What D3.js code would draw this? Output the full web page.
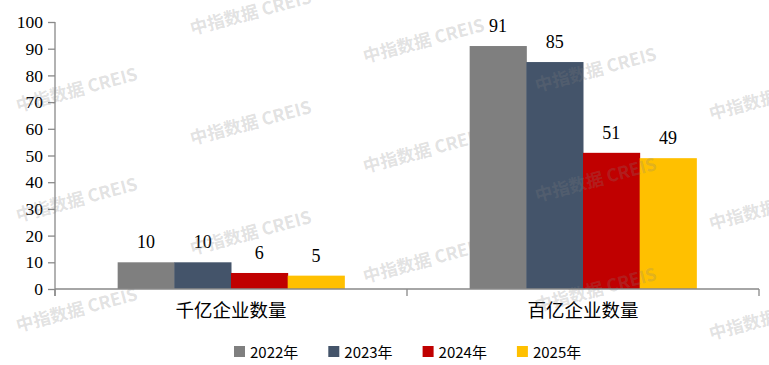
<!DOCTYPE html>
<html>
<head>
<meta charset="utf-8">
<script src="https://cdn.jsdelivr.net/npm/d3@7"></script>
<style>
  body { margin: 0; background: #fff; }
  svg { display: block; }
</style>
</head>
<body>
<svg id="svg"></svg>
<script>
// data
const categories = ["千亿企业数量", "百亿企业数量"];
const years = ["2022年", "2023年", "2024年", "2025年"];
const values2022 = [10, 91];
const values2023 = [10, 85];
const values2024 = [6, 51];
const values2025 = [5, 49];
const yTicks = [0, 10, 20, 30, 40, 50, 60, 70, 80, 90, 100];
const colors = ["#7F7F7F", "#44546A", "#C00000", "#FFC000"];

const svgWidth = 769;
const svgHeight = 365;
const plotLeft = 55, plotRight = 759, plotTop = 22, plotBottom = 289;

const seriesValues = [values2022, values2023, values2024, values2025];

var svg = d3.select("svg")
    .attr("width", svgWidth)
    .attr("height", svgHeight);

var x0 = d3.scaleBand().domain(categories).range([plotLeft, plotRight]);
var bw = x0.bandwidth();
var gap = bw * 0.178;
var x1 = d3.scaleBand().domain(years).range([gap, bw - gap]);
var y = d3.scaleLinear().domain([0, 100]).range([plotBottom, plotTop]);

// table of rows for bars
var rows = [];
categories.forEach((c, ci) => {
    years.forEach((yr, si) => {
        rows.push({ cat: c, year: yr, value: seriesValues[si][ci], color: colors[si] });
    });
});

// bars
svg.append("g").selectAll("rect")
    .data(rows)
    .enter()
    .append("rect")
    .attr("x", d => x0(d.cat) + x1(d.year))
    .attr("y", d => y(d.value))
    .attr("width", x1.bandwidth() + 0.5)
    .attr("height", d => y(0) - y(d.value))
    .attr("fill", d => d.color);

// value labels
svg.append("g").selectAll("text")
    .data(rows)
    .enter()
    .append("text")
    .attr("x", d => x0(d.cat) + x1(d.year) + x1.bandwidth() / 2)
    .attr("y", d => y(d.value) - 14)
    .attr("text-anchor", "middle")
    .attr("font-family", "'Liberation Serif', 'Times New Roman', serif")
    .attr("font-size", 18)
    .attr("fill", "#000")
    .text(d => d.value);

// y axis
var yAxis = svg.append("g")
    .attr("transform", "translate(" + plotLeft + ",0)")
    .call(d3.axisLeft(y).tickValues(yTicks).tickSize(7).tickPadding(5));
yAxis.select(".domain").attr("stroke", "#898989").attr("stroke-width", 1.3)
    .attr("d", "M0," + plotTop + "V" + (plotBottom + 7));
yAxis.selectAll(".tick line").attr("stroke", "#898989").attr("stroke-width", 1.3);
yAxis.selectAll(".tick text")
    .attr("font-family", "'Liberation Serif', 'Times New Roman', serif")
    .attr("font-size", 17.5)
    .attr("fill", "#000");

// x axis
var xAxis = svg.append("g")
    .attr("transform", "translate(0," + plotBottom + ")")
    .call(d3.axisBottom(x0).tickSize(0).tickPadding(15));
xAxis.select(".domain").attr("stroke", "#898989").attr("stroke-width", 1.3)
    .attr("d", "M" + plotLeft + ",0H" + plotRight);
xAxis.selectAll(".tick text")
    .attr("font-family", "'Liberation Serif', 'Noto Sans CJK SC', serif")
    .attr("font-size", 18.5)
    .attr("fill", "#000");
// category dividers
svg.append("g").selectAll("line")
    .data([plotLeft, x0(categories[1]), plotRight])
    .enter()
    .append("line")
    .attr("x1", d => d).attr("x2", d => d)
    .attr("y1", plotBottom).attr("y2", plotBottom + 7)
    .attr("stroke", "#898989")
    .attr("stroke-width", 1.3);

// legend
var legend = svg.append("g").selectAll("g")
    .data(years)
    .enter()
    .append("g")
    .attr("transform", (d, i) => "translate(" + (234 + i * 94.3) + ",346)");
legend.append("rect")
    .attr("width", 11).attr("height", 11)
    .attr("fill", (d, i) => colors[i]);
legend.append("text")
    .attr("x", 16).attr("y", 11.5)
    .attr("font-family", "'Noto Sans CJK SC', sans-serif")
    .attr("font-size", 15)
    .attr("fill", "#000")
    .text(d => d);

// watermarks (only the ones that show on the page)
var marks = [];
[[18, 2], [192, 35], [365, 63], [537, 92], [711, 10]].forEach(p => {
    for (let k = 0; k < 4; k++) {
        var my = p[1] + k * 110;
        if (my > 12 && my < 360) marks.push([p[0], my]);
    }
});
svg.append("g").selectAll("text")
    .data(marks)
    .enter()
    .append("text")
    .attr("transform", d => "translate(" + d[0] + "," + d[1] + ") rotate(-15)")
    .attr("font-family", "'Noto Sans CJK SC', sans-serif")
    .attr("font-weight", "bold")
    .attr("font-size", 17.5)
    .attr("fill", "#808080")
    .attr("fill-opacity", 0.24)
    .text("中指数据 CREIS");
</script>
</body>
</html>
